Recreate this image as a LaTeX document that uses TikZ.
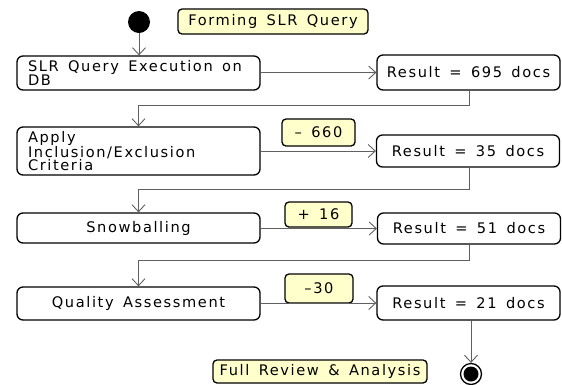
\documentclass[tikz,border=0pt]{standalone}
\usepackage{fontspec}
\setmainfont{DejaVu Sans}
\newfontfamily\labelfont{DejaVu Sans}[LetterSpace=11, WordSpace=1.5]
\newcommand\labelsize{\labelfont\fontsize{14.6}{13.5}\selectfont}
% keep the font's own word spacing inside aligned (multi-line) nodes
\newcommand\fontspaces{\spaceskip=0pt\xspaceskip=0pt\relax}
\AtBeginDocument{\sbox0{\labelsize Forming}}
\usetikzlibrary{arrows.meta}
\definecolor{notefill}{HTML}{FFFFCC}
\definecolor{wire}{HTML}{606060}
\tikzset{
  x=1pt, y=-1pt,
  txt/.style={font=\labelsize},
  action/.style={txt, draw=black, line width=1.3pt, rounded corners=6pt, fill=white,
    minimum width=243pt, inner sep=0pt},
  result/.style={txt, draw=black, line width=1.3pt, rounded corners=6pt, fill=white,
    minimum width=183pt, inner sep=0pt},
  note/.style={txt, draw=black, line width=1.3pt, rounded corners=4pt, fill=notefill,
    inner sep=0pt},
  flow/.style={draw=wire, line width=0.9pt, -{Straight Barb[length=7pt,width=13pt,line width=0.9pt]}},
}
\begin{document}
\begin{tikzpicture}
\useasboundingbox (0,0) rectangle (562,384);

% start and end markers
\node[circle, fill=black, minimum size=22pt, inner sep=0pt] (start) at (139,22) {};
\node[circle, draw=black, line width=1.3pt, fill=white, minimum size=21pt, inner sep=0pt] (finish) at (471,374) {};
\fill[black] (finish.center) circle (7.5pt);

% actions
\node[action, minimum height=34pt, text width=221pt, align=left] (q1) at (138.5,73) {\fontspaces SLR Query Execution on\\DB};
\node[action, minimum height=48pt, text width=221pt, align=left] (q2) at (138.5,151) {\fontspaces Apply\\Inclusion/Exclusion\\Criteria};
\node[action, minimum height=30pt] (q3) at (138.5,228) {Snowballing};
\node[action, minimum height=33pt] (q4) at (138.5,303.5) {Quality Assessment};

% results
\node[result, minimum height=35pt] (r1) at (468.5,72.5) {Result = 695 docs};
\node[result, minimum height=32pt] (r2) at (468,151) {Result = 35 docs};
\node[result, minimum height=31pt] (r3) at (469,228.5) {Result = 51 docs};
\node[result, minimum height=34pt] (r4) at (468.5,303) {Result = 21 docs};

% notes
\node[note, minimum width=190pt, minimum height=25pt] (nform) at (273,21.5) {Forming SLR Query};
\node[note, minimum width=73pt, minimum height=27pt] (n660) at (318.5,132.5) {– 660};
\node[note, minimum width=67pt, minimum height=25pt] (n16) at (318.5,214.5) {+ 16};
\node[note, minimum width=68pt, minimum height=29pt] (n30) at (319,288.5) {–30};
\node[note, minimum width=214pt, minimum height=23pt] (nfull) at (320,371.5) {Full Review \& Analysis};

% routing points
\coordinate (b1) at (469,105);
\coordinate (b2) at (469,189);
\coordinate (b3) at (469,260);

% connectors
\draw[flow] (start) -- (q1.north -| start);
\draw[flow] (q1.east |- r1.west) -- (r1.west);
\draw[flow] (r1.south -| b1) -- (b1) -| (q2.north);
\draw[flow] (q2.east |- r2.west) -- (r2.west);
\draw[flow] (r2.south -| b2) -- (b2) -| (q3.north);
\draw[flow] (q3.east |- r3.west) -- (r3.west);
\draw[flow] (r3.south -| b3) -- (b3) -| (q4.north);
\draw[flow] (q4.east |- r4.west) -- (r4.west);
\draw[flow] (r4.south -| finish) -- (finish.north);
\end{tikzpicture}
\end{document}
